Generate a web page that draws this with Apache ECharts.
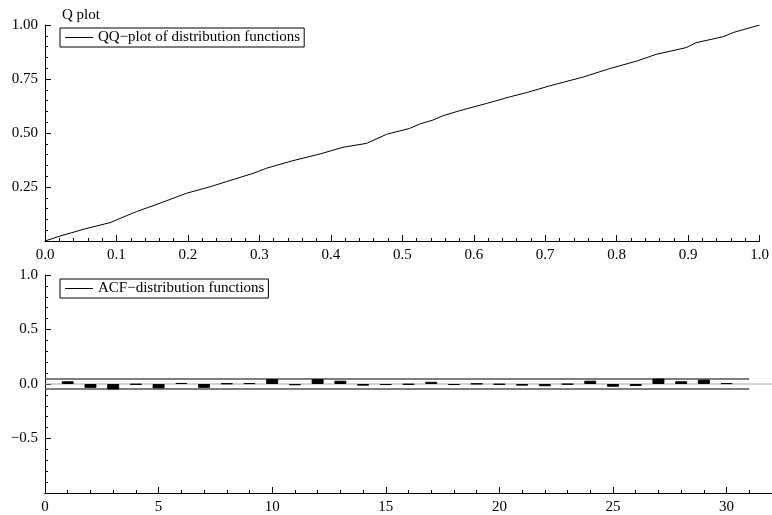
<!DOCTYPE html>
<html>
<head>
<meta charset="utf-8">
<script src="https://cdn.jsdelivr.net/npm/echarts@6/dist/echarts.min.js"></script>
<style>
  html, body { margin: 0; padding: 0; background: #fff; }
  #chart { width: 772px; height: 515px; }
</style>
</head>
<body>
<div id="chart"></div>
<script>
// QQ plot: theoretical vs empirical distribution function
const qqProb = [0, 0.021, 0.056, 0.091, 0.128, 0.161, 0.198, 0.231, 0.254, 0.291, 0.31, 0.347, 0.385, 0.417, 0.45, 0.478, 0.51, 0.524, 0.543, 0.557, 0.58, 0.618, 0.65, 0.674, 0.706, 0.753, 0.79, 0.828, 0.855, 0.897, 0.911, 0.949, 0.963, 1.0];
const qqEmp = [0, 0.023, 0.056, 0.085, 0.136, 0.175, 0.221, 0.251, 0.275, 0.313, 0.337, 0.372, 0.403, 0.434, 0.452, 0.494, 0.521, 0.541, 0.56, 0.58, 0.603, 0.637, 0.667, 0.687, 0.718, 0.759, 0.798, 0.833, 0.864, 0.895, 0.918, 0.946, 0.965, 1.0];

// ACF of the distribution functions
const acfLags = [1, 2, 3, 4, 5, 6, 7, 8, 9, 10, 11, 12, 13, 14, 15, 16, 17, 18, 19, 20, 21, 22, 23, 24, 25, 26, 27, 28, 29, 30];
const acfValues = [0.025, -0.035, -0.05, -0.005, -0.04, 0.01, -0.035, 0.005, 0.008, 0.045, -0.012, 0.045, 0.03, -0.015, -0.01, -0.005, 0.02, -0.01, 0.003, -0.005, -0.015, -0.02, -0.003, 0.03, -0.025, -0.018, 0.05, 0.025, 0.04, 0.008];
const acfBand = 0.045;
const bandEnd = 31;
const lagMax = 32;

const font = "'Liberation Serif', 'DejaVu Serif', serif";
const minus = (v) => String(v).replace("-", "\u2212");

const axisBase = {
  axisLine: { onZero: false, lineStyle: { color: "#000", width: 1 } },
  axisTick: { inside: true, length: 6, lineStyle: { color: "#000" } },
  minorTick: { show: true, splitNumber: 5, length: 3, lineStyle: { color: "#000" } },
  splitLine: { show: false },
  axisLabel: { color: "#000", fontFamily: font, fontSize: 15, margin: 7 },
};

const legendBase = {
  orient: "vertical",
  icon: "rect",
  itemWidth: 28,
  itemHeight: 1,
  itemStyle: { borderWidth: 0 },
  padding: [2, 4, 2, 5],
  borderColor: "#000",
  borderWidth: 1,
  textStyle: { fontFamily: font, fontSize: 15, color: "#000" },
};

const chart = echarts.init(document.getElementById("chart"));

const option = {
  animation: false,
  title: {
    text: "Q plot",
    left: 57,
    top: 3,
    textStyle: { fontFamily: font, fontSize: 15, fontWeight: "normal", color: "#000" },
  },
  legend: [
    {
      ...legendBase,
      data: [{ name: "QQ\u2212plot of distribution functions" }],
      left: 60,
      top: 28,
    },
    {
      ...legendBase,
      data: [{ name: "ACF\u2212distribution functions" }],
      left: 60,
      top: 279,
    },
  ],
  grid: [
    { left: 45, top: 25, right: 12, height: 216 },
    { left: 45, top: 275, right: -3, height: 218 },
  ],
  xAxis: [
    {
      ...axisBase,
      type: "value",
      gridIndex: 0,
      min: 0,
      max: 1,
      interval: 0.1,
      axisLabel: { ...axisBase.axisLabel, formatter: (v) => v.toFixed(1) },
    },
    {
      ...axisBase,
      type: "value",
      gridIndex: 1,
      position: "bottom",
      min: 0,
      max: lagMax,
      interval: 5,
      minorTick: { show: false },
      axisLabel: { ...axisBase.axisLabel, showMaxLabel: false },
    },
    {
      ...axisBase,
      type: "value",
      gridIndex: 1,
      position: "bottom",
      min: 0,
      max: lagMax,
      interval: 1,
      axisTick: { inside: true, length: 3, lineStyle: { color: "#000" } },
      minorTick: { show: false },
      axisLabel: { show: false },
    },
  ],
  yAxis: [
    {
      ...axisBase,
      type: "value",
      gridIndex: 0,
      min: 0,
      max: 1,
      interval: 0.25,
      axisLabel: { ...axisBase.axisLabel, showMinLabel: false, formatter: (v) => v.toFixed(2) },
    },
    {
      ...axisBase,
      type: "value",
      gridIndex: 1,
      min: -1,
      max: 1,
      interval: 0.5,
      axisLabel: { ...axisBase.axisLabel, showMinLabel: false, formatter: (v) => minus(v.toFixed(1)) },
    },
  ],
  series: [
    {
      name: "QQ\u2212plot of distribution functions",
      type: "line",
      xAxisIndex: 0,
      yAxisIndex: 0,
      symbol: "none",
      color: "#000",
      lineStyle: { color: "#000", width: 1 },
      data: qqProb.map((p, i) => [p, qqEmp[i]]),
    },
    {
      name: "zero",
      type: "line",
      xAxisIndex: 1,
      yAxisIndex: 1,
      symbol: "none",
      lineStyle: { color: "#aaa", width: 1 },
      data: [[0, 0], [lagMax, 0]],
      z: 1,
    },
    {
      name: "upper",
      type: "line",
      xAxisIndex: 1,
      yAxisIndex: 1,
      symbol: "none",
      lineStyle: { color: "#555", width: 1.5 },
      data: [[0, acfBand], [bandEnd, acfBand]],
      z: 1,
    },
    {
      name: "lower",
      type: "line",
      xAxisIndex: 1,
      yAxisIndex: 1,
      symbol: "none",
      lineStyle: { color: "#555", width: 1.5 },
      data: [[0, -acfBand], [bandEnd, -acfBand]],
      z: 1,
    },
    {
      name: "ACF\u2212distribution functions",
      type: "bar",
      xAxisIndex: 1,
      yAxisIndex: 1,
      barWidth: 12,
      color: "#000",
      itemStyle: { color: "#000", borderColor: "#000", borderWidth: 1 },
      data: acfLags.map((l, i) => [l, acfValues[i]]),
      z: 3,
    },
  ],
};

chart.setOption(option);
</script>
</body>
</html>
